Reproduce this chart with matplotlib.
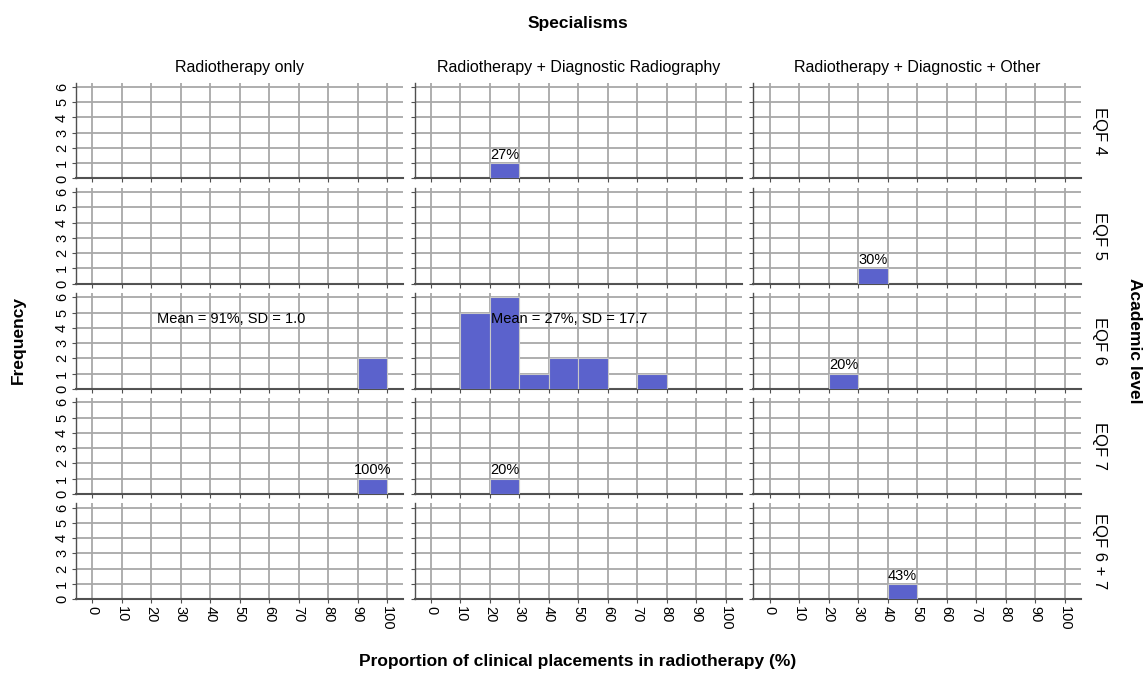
import numpy as np
import matplotlib
matplotlib.use("Agg")
import matplotlib.pyplot as plt

plt.rcParams['font.family'] = ['Liberation Sans', 'DejaVu Sans']

# categories
specialisms = ["Radiotherapy only",
               "Radiotherapy + Diagnostic Radiography",
               "Radiotherapy + Diagnostic + Other"]
levels = ["EQF 4", "EQF 5", "EQF 6", "EQF 7", "EQF 6 + 7"]
bin_edges = [0, 10, 20, 30, 40, 50, 60, 70, 80, 90, 100]

# counts per 10% bin, one list per specialism
counts_eqf4 = [[0, 0, 0, 0, 0, 0, 0, 0, 0, 0],
               [0, 0, 1, 0, 0, 0, 0, 0, 0, 0],
               [0, 0, 0, 0, 0, 0, 0, 0, 0, 0]]
counts_eqf5 = [[0, 0, 0, 0, 0, 0, 0, 0, 0, 0],
               [0, 0, 0, 0, 0, 0, 0, 0, 0, 0],
               [0, 0, 0, 1, 0, 0, 0, 0, 0, 0]]
counts_eqf6 = [[0, 0, 0, 0, 0, 0, 0, 0, 0, 2],
               [0, 5, 6, 1, 2, 2, 0, 1, 0, 0],
               [0, 0, 1, 0, 0, 0, 0, 0, 0, 0]]
counts_eqf7 = [[0, 0, 0, 0, 0, 0, 0, 0, 0, 1],
               [0, 0, 1, 0, 0, 0, 0, 0, 0, 0],
               [0, 0, 0, 0, 0, 0, 0, 0, 0, 0]]
counts_eqf67 = [[0, 0, 0, 0, 0, 0, 0, 0, 0, 0],
                [0, 0, 0, 0, 0, 0, 0, 0, 0, 0],
                [0, 0, 0, 0, 1, 0, 0, 0, 0, 0]]
all_counts = [counts_eqf4, counts_eqf5, counts_eqf6, counts_eqf7, counts_eqf67]

# single-value labels: (row, col, bin index, text)
bar_labels = [(0, 1, 2, "27%"), (1, 2, 3, "30%"), (2, 2, 2, "20%"),
              (3, 0, 9, "100%"), (3, 1, 2, "20%"), (4, 2, 4, "43%")]
# mean / sd labels: (row, col, text)
stat_labels = [(2, 0, "Mean = 91%, SD = 1.0"),
               (2, 1, "Mean = 27%, SD = 17.7")]

bar_color = '#5b62cc'
grid_color = '#a8a8a8'

fig, axes = plt.subplots(5, 3, figsize=(11.48, 6.74), dpi=100)
fig.subplots_adjust(left=0.0662, right=0.9414, top=0.8773, bottom=0.1112,
                    wspace=0.035, hspace=0.098)

edges = np.array(bin_edges)
centers = (edges[:-1] + edges[1:]) / 2
width = np.diff(edges)

for r in range(5):
    for c in range(3):
        ax = axes[r, c]
        cnt = np.array(all_counts[r][c])
        ax.bar(centers, cnt, width=width, color=bar_color,
               edgecolor='#c8c8c8', linewidth=0.8, zorder=3)
        ax.set_xlim(-5.5, 105.5)
        ax.set_ylim(0, 6.28)
        ax.set_xticks(bin_edges)
        ax.set_yticks(range(7))
        ax.grid(True, color=grid_color, linewidth=1.3, zorder=0)
        ax.set_axisbelow(True)
        for s in ['top', 'right']:
            ax.spines[s].set_visible(False)
        ax.spines['bottom'].set_color('#505050')
        ax.spines['bottom'].set_linewidth(1.5)
        ax.spines['left'].set_color('#505050')
        ax.spines['left'].set_linewidth(1.0)
        ax.tick_params(axis='both', length=3, width=0.8, color='#505050',
                       labelsize=10.5, pad=2)
        if r == 4:
            ax.set_xticklabels([str(v) for v in bin_edges], rotation=-90)
        else:
            ax.set_xticklabels([])
        if c == 0:
            ax.set_yticklabels([str(v) for v in range(7)], rotation=90,
                               va='center')
        else:
            ax.set_yticklabels([])
        if r == 0:
            ax.set_title(specialisms[c], fontsize=11.5, pad=8)
        if c == 2:
            ax.text(1.035, 0.5, levels[r], transform=ax.transAxes,
                    rotation=-90, ha='left', va='center', fontsize=12)

for r, c, b, txt in bar_labels:
    ax = axes[r, c]
    ax.text(centers[b], all_counts[r][c][b] + 0.08, txt, ha='center',
            va='bottom', fontsize=10.5, zorder=4)

for r, c, txt in stat_labels:
    axes[r, c].text(47, 4.55, txt, ha='center', va='center', fontsize=10.5,
                    zorder=4)

fig.text(0.503, 0.965, "Specialisms", ha='center', va='center',
         fontsize=12.5, fontweight='bold')
fig.text(0.503, 0.018, "Proportion of clinical placements in radiotherapy (%)",
         ha='center', va='center', fontsize=12.5, fontweight='bold')
fig.text(0.016, 0.495, "Frequency", rotation=90, ha='center', va='center',
         fontsize=12.5, fontweight='bold')
fig.text(0.988, 0.495, "Academic level", rotation=-90, ha='center',
         va='center', fontsize=12.5, fontweight='bold')

fig.savefig("out.png", dpi=100)
